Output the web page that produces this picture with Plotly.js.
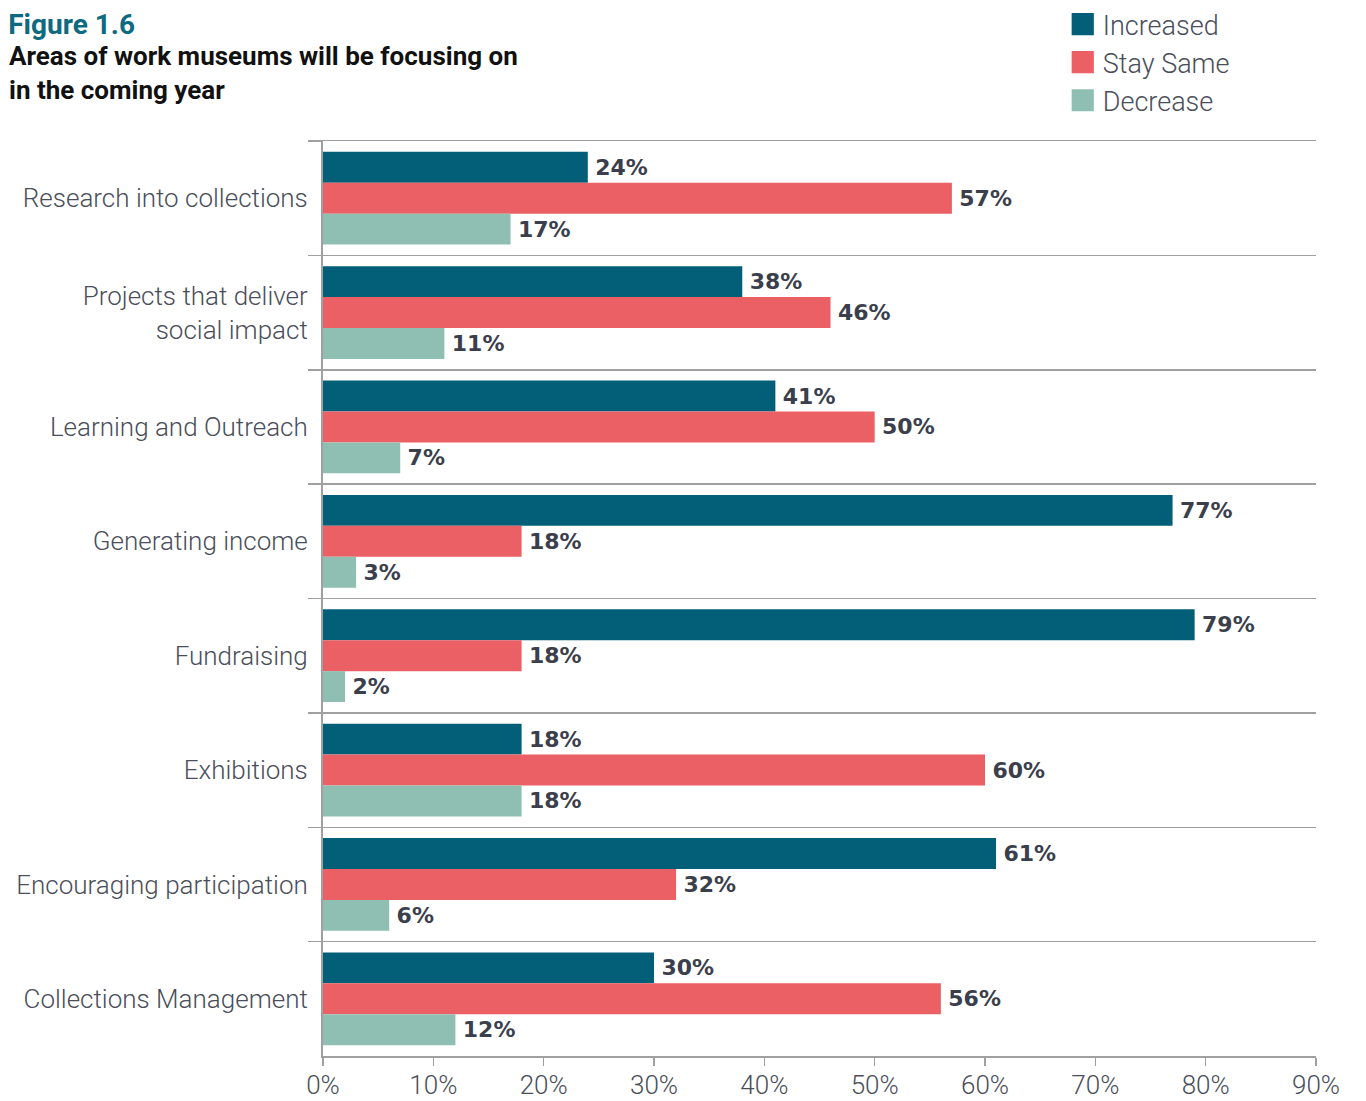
<!DOCTYPE html>
<html>
<head>
<meta charset="utf-8">
<script src="https://cdn.plot.ly/plotly-3.0.1.min.js"></script>
<style>
  body { margin: 0; background: #fff; }
  #chart { width: 1366px; height: 1101px; }
  /* bigger legend swatches, like the printed figure */
  #chart .legendpoints path { transform: translate(20px, 0px) scale(1.85); }
</style>
</head>
<body>
<div id="chart"></div>
<script>
// categories, top to bottom
var areas = [
    'Research into collections',
    'Projects that deliver<br>social impact',
    'Learning and Outreach',
    'Generating income',
    'Fundraising',
    'Exhibitions',
    'Encouraging participation',
    'Collections Management'
];

// % of museums
var increased = [24, 38, 41, 77, 79, 18, 61, 30];
var staySame  = [57, 46, 50, 18, 18, 60, 32, 56];
var decrease  = [17, 11, 7, 3, 2, 18, 6, 12];

var xTicks = [0, 10, 20, 30, 40, 50, 60, 70, 80, 90];

var textGrey = '#4a4e5a';
var labelFont = { family: 'DejaVu Sans, sans-serif', size: 22, color: '#3b3f4c', weight: 'bold' };

function barTrace(name, vals, color) {
    return {
        type: 'bar',
        orientation: 'h',
        name: name,
        y: areas,
        x: vals,
        marker: { color: color, line: { width: 0 } },
        text: vals.map(v => '\u2009' + v + '%'),
        textposition: 'outside',
        textfont: labelFont,
        constraintext: 'none',
        cliponaxis: false,
        hoverinfo: 'skip'
    };
}

var data = [
    barTrace('Increased', increased, '#035e78'),
    barTrace('Stay Same', staySame, '#eb6064'),
    barTrace('Decrease', decrease, '#8fbfb2')
];

var layout = {
    width: 1366,
    height: 1101,
    margin: { l: 323, r: 50, t: 141, b: 45, autoexpand: false },
    paper_bgcolor: '#fff',
    plot_bgcolor: '#fff',
    barmode: 'group',
    bargap: 0.19,
    bargroupgap: 0,
    font: { family: 'Roboto, sans-serif', color: textGrey },
    title: {
        text: 'Figure 1.6',
        xref: 'container', x: 0.006, xanchor: 'left',
        yref: 'container', y: 0.978, yanchor: 'middle',
        font: { family: 'Roboto, sans-serif', size: 28, color: '#0e6a80', weight: 'bold' }
    },
    annotations: [{
        xref: 'paper', yref: 'paper',
        x: -0.318, y: 1.112, xanchor: 'left', yanchor: 'top',
        align: 'left',
        showarrow: false,
        text: '<b>Areas of work museums will be focusing on<br>in the coming year</b>',
        font: { family: 'Roboto, sans-serif', size: 26, color: '#111' }
    }],
    showlegend: true,
    legend: {
        xref: 'container', x: 0.778, xanchor: 'left',
        yref: 'container', y: 1.006, yanchor: 'top',
        traceorder: 'normal',
        font: { family: 'Roboto, sans-serif', size: 27, color: textGrey, weight: 300 },
        itemwidth: 30,
        tracegroupgap: 0
    },
    xaxis: {
        range: [0, 90],
        tickvals: xTicks,
        ticktext: xTicks.map(v => v + '%'),
        showgrid: false,
        zeroline: false,
        showline: true,
        mirror: true,
        linecolor: '#a0a0a0',
        linewidth: 1.5,
        ticks: 'outside',
        ticklen: 8,
        tickwidth: 1.5,
        tickcolor: '#a0a0a0',
        ticklabelstandoff: -3,
        tickfont: { family: 'Roboto, sans-serif', size: 26, color: textGrey, weight: 300 },
        fixedrange: true
    },
    yaxis: {
        type: 'category',
        autorange: 'reversed',
        tickson: 'boundaries',
        showgrid: true,
        gridcolor: '#a0a0a0',
        gridwidth: 1.5,
        showline: true,
        linecolor: '#a0a0a0',
        linewidth: 2,
        ticks: 'outside',
        ticklen: 13,
        tickwidth: 1.5,
        tickcolor: '#a0a0a0',
        ticklabelstandoff: 8,
        tickfont: { family: 'Roboto, sans-serif', size: 26, color: textGrey, weight: 300 },
        fixedrange: true
    }
};

Plotly.newPlot('chart', data, layout, { displayModeBar: false, staticPlot: true });
</script>
</body>
</html>
